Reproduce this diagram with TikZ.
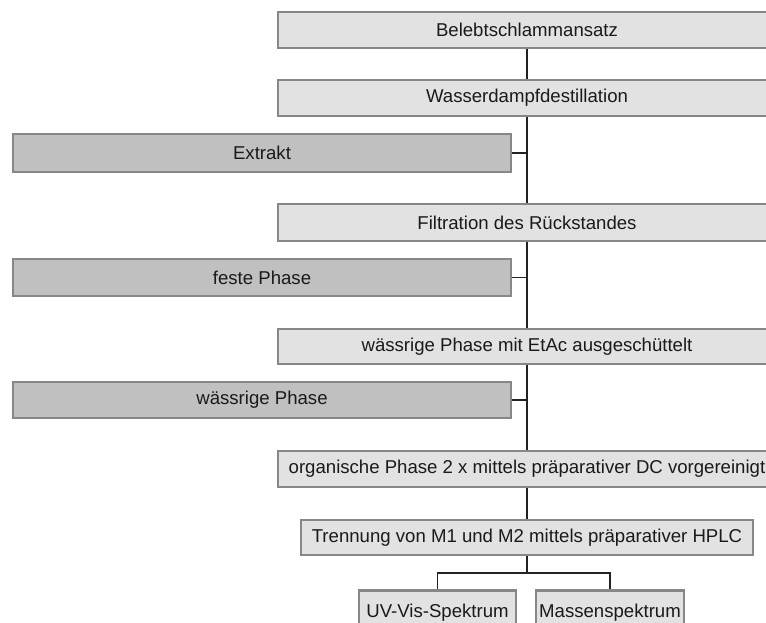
\documentclass[tikz,border=0pt]{standalone}
\usepackage{fontspec}
\setmainfont{Liberation Sans}
\definecolor{lightfill}{HTML}{E2E2E2}
\definecolor{darkfill}{HTML}{C0C0C0}
\definecolor{boxborder}{HTML}{878787}
\definecolor{linec}{HTML}{222222}
\definecolor{textc}{HTML}{1A1A1A}
\begin{document}
\begin{tikzpicture}[x=1pt,y=-1pt,
  box/.style={draw=boxborder, line width=2.4pt, fill=#1, rectangle, inner sep=0pt,
    font=\fontsize{18.6}{20}\selectfont, text=textc},
  conn/.style={draw=linec, line width=1.3pt}]
\useasboundingbox (0,0) rectangle (766,622);
\clip (0,0) rectangle (766,622);
% nodes
\node[box=lightfill, minimum width=497.6pt, minimum height=35.6pt] (B) at (527,30) {Belebtschlammansatz};
\node[box=lightfill, minimum width=497.6pt, minimum height=35.6pt] (W) at (527,98) {Wasserdampfdestillation};
\node[box=darkfill, minimum width=497.6pt, minimum height=37.6pt] (E) at (262,153) {Extrakt};
\node[box=lightfill, minimum width=497.6pt, minimum height=36.6pt] (F) at (527,222.5) {Filtration des Rückstandes};
\node[box=darkfill, minimum width=497.6pt, minimum height=36.6pt] (S) at (262,277.5) {feste Phase};
\node[box=lightfill, minimum width=497.6pt, minimum height=34.6pt] (A) at (527,346.5) {wässrige Phase mit EtAc ausgeschüttelt};
\node[box=darkfill, minimum width=497.6pt, minimum height=35.6pt] (Q) at (262,400) {wässrige Phase};
\node[box=lightfill, minimum width=497.6pt, minimum height=35.6pt] (O) at (527,469) {organische Phase 2 x mittels präparativer DC vorgereinigt};
\node[box=lightfill, minimum width=451.6pt, minimum height=34.6pt] (T) at (527,537.5) {Trennung von M1 und M2 mittels präparativer HPLC};
\node[box=lightfill, minimum width=156.6pt, minimum height=41.6pt, text depth=0pt, anchor=north] (U) at (437.5,589.2) {\raisebox{1.5pt}{UV-Vis-Spektrum}};
\node[box=lightfill, minimum width=147.6pt, minimum height=41.6pt, text depth=0pt, anchor=north] (M) at (610,589.2) {\raisebox{1.5pt}{Massenspektrum}};
% connectors
\draw[conn] (B.south) -- (W.north);
\draw[conn] (W.south) -- (F.north);
\draw[conn] (E.east) -- (E.east -| W.south);
\draw[conn] (F.south) -- (A.north);
\draw[conn] (S.east) -- (S.east -| F.south);
\draw[conn] (A.south) -- (O.north);
\draw[conn] (Q.east) -- (Q.east -| A.south);
\draw[conn] (O.south) -- (T.north);
\coordinate (bar) at (527,573);
\draw[conn] (T.south) -- (bar);
\draw[conn] (U.north) |- (bar) -| (M.north);
\end{tikzpicture}
\end{document}
